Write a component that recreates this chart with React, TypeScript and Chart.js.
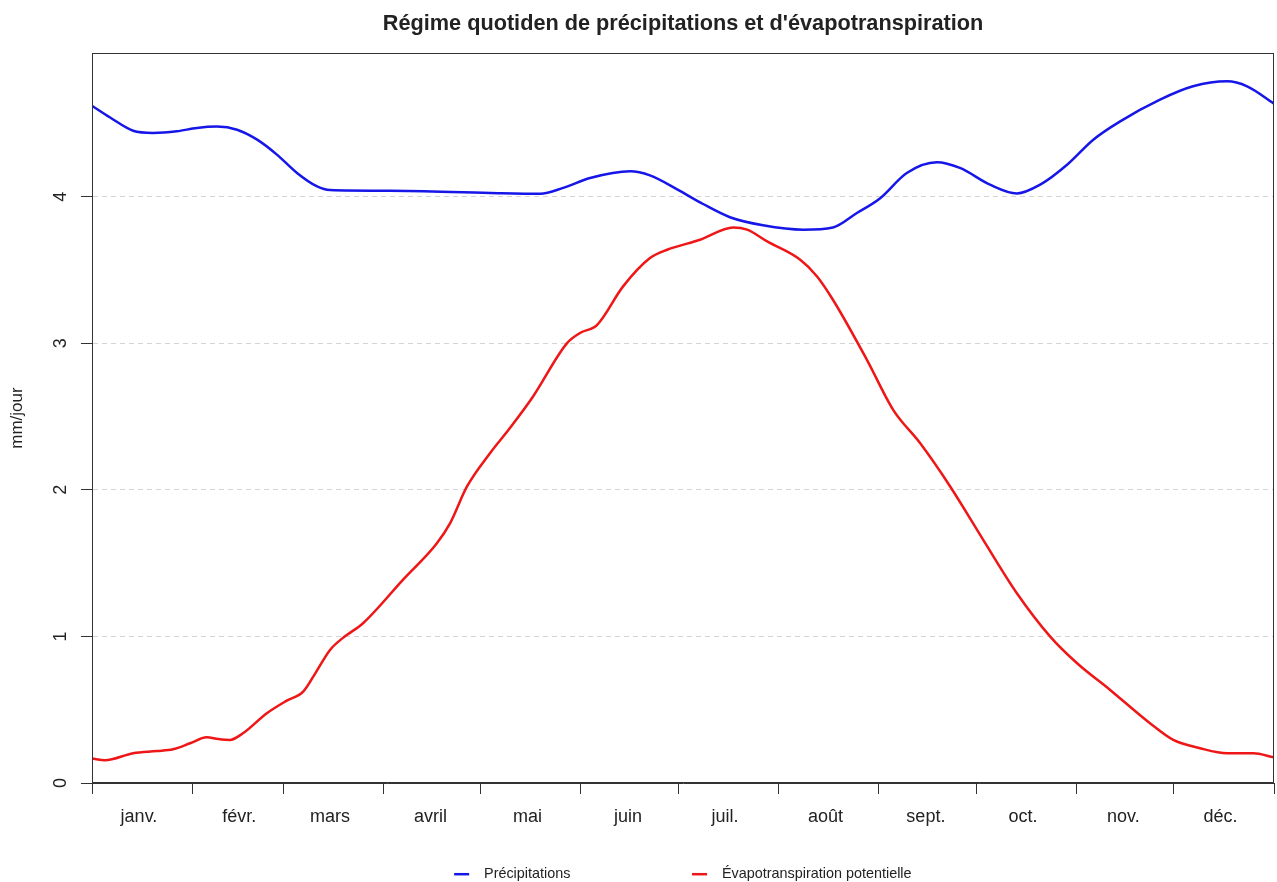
import React, { useEffect, useRef } from 'react';
import { Chart, registerables } from 'chart.js';

Chart.register(...registerables);

// ---------- data ----------
const TITLE = "Régime quotiden de précipitations et d'évapotranspiration";
const Y_TITLE = 'mm/jour';
const SERIES_LABELS = ['Précipitations', 'Évapotranspiration potentielle'];
const MONTHS = ['janv.', 'févr.', 'mars', 'avril', 'mai', 'juin', 'juil.', 'août', 'sept.', 'oct.', 'nov.', 'déc.'];
const MONTH_STARTS = [0, 31, 59, 90, 120, 151, 181, 212, 243, 273, 304, 334, 365];
const Y_TICKS = [0, 1, 2, 3, 4];

const PRECIP_DAYS = [
  0, 5.6, 12.7, 18.8, 26.2, 32.4, 38.6, 44.8, 51, 57.1, 63.3, 69.5, 73.5, 92, 123,
  138.4, 145.5, 153.8, 166.2, 172.3, 180.7, 188.7, 197, 207.2, 219.6, 228.8, 236.2,
  243.4, 251.6, 260.9, 268, 277.3, 285.6, 292.8, 301.1, 309.2, 317.5, 329.8, 340,
  350.5, 356.7, 365,
];
const PRECIP_VALUES = [
  4.62, 4.54, 4.45, 4.435, 4.446, 4.469, 4.478, 4.457, 4.389, 4.287, 4.162, 4.07, 4.045, 4.04, 4.025,
  4.02, 4.06, 4.127, 4.173, 4.145, 4.05, 3.95, 3.86, 3.805, 3.775, 3.79, 3.889,
  3.99, 4.162, 4.235, 4.196, 4.082, 4.022, 4.082, 4.218, 4.389, 4.514, 4.662, 4.753,
  4.787, 4.753, 4.635,
];

const ETP_DAYS = [
  0, 4, 12.7, 20, 25, 30.3, 35.4, 39, 42.6, 46.6, 54, 60, 65.2, 69, 73.5, 77.5, 83.7,
  96, 106.5, 110.6, 115.8, 122.9, 129, 136.2, 146.7, 150.7, 156, 164, 172.3, 177.6,
  187.8, 198, 202.3, 208.5, 218.7, 223.9, 228.8, 239.3, 247.4, 255.7, 265, 275.2,
  285.6, 295.9, 304.2, 314.4, 326.7, 333.9, 342.2, 350.5, 358.6, 365,
];
const ETP_VALUES = [
  0.168, 0.155, 0.203, 0.218, 0.23, 0.271, 0.312, 0.3, 0.294, 0.339, 0.476, 0.56, 0.623, 0.75, 0.908, 0.99, 1.09,
  1.386, 1.636, 1.773, 2.023, 2.25, 2.42, 2.637, 3.001, 3.07, 3.126, 3.388, 3.581, 3.638,
  3.706, 3.79, 3.775, 3.695, 3.57, 3.456, 3.297, 2.887, 2.546, 2.319, 2.023, 1.659,
  1.295, 0.999, 0.817, 0.635, 0.408, 0.294, 0.237, 0.203, 0.203, 0.175,
];

const COLORS = ['rgb(22,22,232)', 'rgb(238,22,22)'];
const FONT = "'Liberation Sans', Arial, Helvetica, sans-serif";
const TEXT = '#222222';
const AXIS = '#333333';

const MONTH_MIDS = MONTHS.map((_, i) => MONTH_STARTS[i] + 14.5);

const framePlugin = {
  id: 'frame',
  afterDatasetsDraw(chart: any) {
    const { ctx, chartArea } = chart;
    const l = Math.round(chartArea.left) + 0.5;
    const t = Math.round(chartArea.top) + 0.5;
    const r = Math.round(chartArea.right) - 0.5;
    const b = Math.round(chartArea.bottom) - 0.5;
    ctx.save();
    ctx.strokeStyle = AXIS;
    ctx.lineWidth = 1;
    ctx.strokeRect(l, t, r - l, b - t);
    ctx.restore();
  },
};

export default function App() {
  const ref = useRef<HTMLCanvasElement | null>(null);

  useEffect(() => {
    if (!ref.current) return;
    Chart.defaults.font.family = FONT;
    const chart = new Chart(ref.current, {
      type: 'line',
      data: {
        datasets: [
          {
            label: SERIES_LABELS[0],
            data: PRECIP_DAYS.map((d, i) => ({ x: d, y: PRECIP_VALUES[i] })),
            borderColor: COLORS[0],
            backgroundColor: COLORS[0],
            borderWidth: 2.5,
            pointRadius: 0,
            fill: false,
            cubicInterpolationMode: 'monotone',
          },
          {
            label: SERIES_LABELS[1],
            data: ETP_DAYS.map((d, i) => ({ x: d, y: ETP_VALUES[i] })),
            borderColor: COLORS[1],
            backgroundColor: COLORS[1],
            borderWidth: 2.5,
            pointRadius: 0,
            fill: false,
            cubicInterpolationMode: 'monotone',
          },
        ],
      },
      options: {
        responsive: false,
        animation: false,
        events: [],
        layout: { autoPadding: false, padding: { left: 0, right: 3, top: 0, bottom: 0 } },
        scales: {
          x: {
            type: 'linear',
            position: 'bottom',
            min: 0,
            max: 365,
            afterBuildTicks: (scale: any) => {
              const vals = [...MONTH_STARTS, ...MONTH_MIDS].sort((a, b) => a - b);
              scale.ticks = vals.map((v) => ({ value: v }));
            },
            afterFit: (scale: any) => {
              scale.height = 74;
              scale.paddingLeft = 0;
              scale.paddingRight = 0;
            },
            ticks: {
              autoSkip: false,
              maxRotation: 0,
              minRotation: 0,
              padding: 12,
              color: TEXT,
              font: { size: 18, family: FONT },
              callback: (value: any) => {
                const i = MONTH_MIDS.indexOf(Number(value));
                return i >= 0 ? MONTHS[i] : '';
              },
            },
            grid: {
              drawOnChartArea: false,
              drawTicks: true,
              tickLength: 11,
              tickWidth: 1,
              tickColor: (ctx: any) =>
                ctx.tick && MONTH_STARTS.includes(ctx.tick.value) ? AXIS : 'rgba(0,0,0,0)',
            },
            border: { display: true, color: AXIS, width: 1 },
          },
          y: {
            type: 'linear',
            position: 'left',
            min: 0,
            max: 4.98,
            afterBuildTicks: (scale: any) => {
              scale.ticks = Y_TICKS.map((v) => ({ value: v }));
            },
            afterFit: (scale: any) => {
              scale.width = 92;
              scale.paddingTop = 0;
              scale.paddingBottom = 0;
            },
            title: {
              display: true,
              text: Y_TITLE,
              color: TEXT,
              font: { size: 17, family: FONT },
              padding: { top: 7, bottom: 0 },
            },
            ticks: {
              minRotation: 90,
              maxRotation: 90,
              crossAlign: 'center',
              padding: 15,
              color: TEXT,
              font: { size: 18, family: FONT },
              callback: (value: any) => String(value),
            },
            grid: {
              drawOnChartArea: true,
              drawTicks: true,
              tickLength: 11,
              tickWidth: 1,
              tickColor: AXIS,
              lineWidth: 1,
              color: (ctx: any) =>
                ctx.tick && ctx.tick.value === 0 ? 'rgba(0,0,0,0)' : '#d4d4d4',
            },
            border: { display: true, color: AXIS, width: 1, dash: [5, 4] },
          },
        },
        plugins: {
          title: {
            display: true,
            text: TITLE,
            color: TEXT,
            fullSize: false,
            font: { size: 21.7, weight: 'bold', family: FONT },
            padding: { top: 11, bottom: 16 },
          },
          legend: {
            display: true,
            position: 'bottom',
            fullSize: false,
            maxHeight: 25,
            labels: {
              color: TEXT,
              font: { size: 14.4, family: FONT },
              usePointStyle: true,
              pointStyle: 'line',
              boxHeight: 10.6,
              padding: 10,
              generateLabels: (chart: any) => {
                const items = Chart.defaults.plugins.legend.labels.generateLabels(chart);
                return items.map((it: any, i: number) => ({
                  ...it,
                  pointStyle: 'line',
                  lineWidth: 2.5,
                  strokeStyle: COLORS[i],
                  fillStyle: COLORS[i],
                  text: '  ' + it.text + (i === 0 ? ' '.repeat(28) : ''),
                }));
              },
            },
          },
          tooltip: { enabled: false },
        },
      },
      plugins: [framePlugin],
    } as any);
    return () => chart.destroy();
  }, []);

  return (
    <div style={{ position: 'fixed', left: 0, top: 0, width: 1277, height: 882, background: '#fff' }}>
      <canvas ref={ref} width={1277} height={882} style={{ display: 'block' }} />
    </div>
  );
}
